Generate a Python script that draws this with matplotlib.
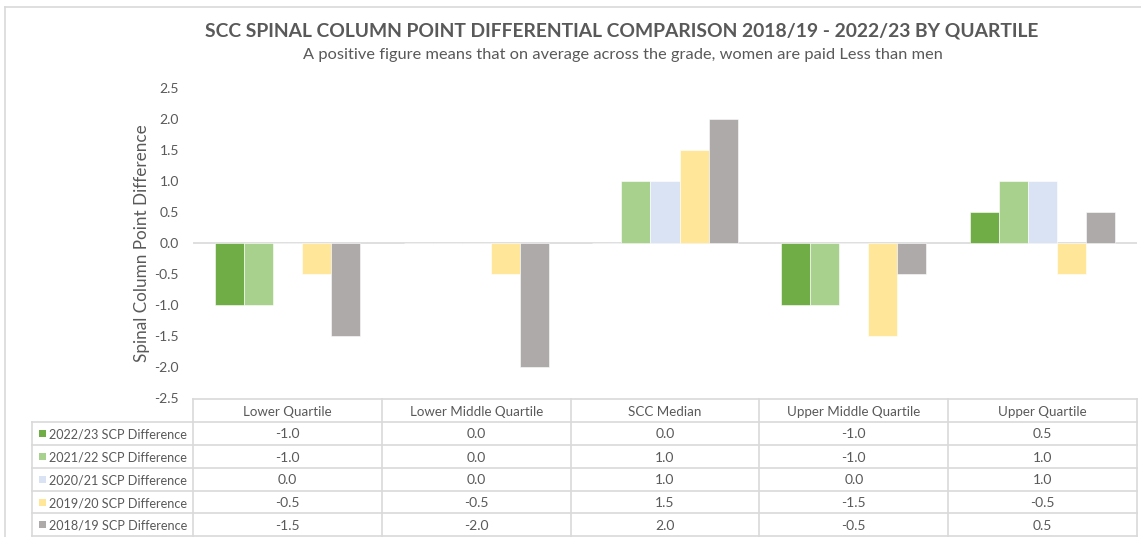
import matplotlib
matplotlib.use("Agg")
import matplotlib.pyplot as plt
from matplotlib.patches import Rectangle
from matplotlib.lines import Line2D

plt.rcParams['font.family'] = ['Lato', 'DejaVu Sans']

categories = ["Lower Quartile", "Lower Middle Quartile", "SCC Median",
              "Upper Middle Quartile", "Upper Quartile"]
series_names = ["2022/23 SCP Difference", "2021/22 SCP Difference",
                "2020/21 SCP Difference", "2019/20 SCP Difference",
                "2018/19 SCP Difference"]
v_2022_23 = [-1.0, 0.0, 0.0, -1.0, 0.5]
v_2021_22 = [-1.0, 0.0, 1.0, -1.0, 1.0]
v_2020_21 = [0.0, 0.0, 1.0, 0.0, 1.0]
v_2019_20 = [-0.5, -0.5, 1.5, -1.5, -0.5]
v_2018_19 = [-1.5, -2.0, 2.0, -0.5, 0.5]
series_values = [v_2022_23, v_2021_22, v_2020_21, v_2019_20, v_2018_19]
colors = ["#70AD47", "#A9D18E", "#DAE3F3", "#FFE699", "#AEAAAA"]
yticks = [2.5, 2.0, 1.5, 1.0, 0.5, 0.0, -0.5, -1.0, -1.5, -2.0, -2.5]

W, H = 1141, 537
fig = plt.figure(figsize=(W / 100, H / 100), dpi=100)
TXT = "#595959"
GRID = "#D9D9D9"

# plot area in pixel coordinates
x0, x1 = 193, 1137
ytop, ybot = 88, 398
ax = fig.add_axes([x0 / W, 1 - ybot / H, (x1 - x0) / W, (ybot - ytop) / H])
ax.set_xlim(-0.5, len(categories) - 0.5)
ax.set_ylim(-2.5, 2.5)
for s in ax.spines.values():
    s.set_visible(False)
ax.set_xticks([])
ax.set_yticks(yticks)
ax.set_yticklabels([f"{t:.1f}" for t in yticks])
ax.tick_params(axis='y', length=0, pad=10, labelsize=10, labelcolor=TXT)
ax.axhline(0, color=GRID, lw=1.2, zorder=1)

n = len(series_values)
bw = 1 / 6.5
for i, (vals, c) in enumerate(zip(series_values, colors)):
    xs = [k + (i - (n - 1) / 2) * bw for k in range(len(categories))]
    ax.bar(xs, vals, width=bw, color=c, edgecolor="white", linewidth=0.4, zorder=2)

ax.set_ylabel("Spinal Column Point Difference", fontsize=12.3, color=TXT, labelpad=3)

# overlay for table / titles in pixel coords
ov = fig.add_axes([0, 0, 1, 1], facecolor="none")
ov.set_xlim(0, W)
ov.set_ylim(H, 0)
ov.axis("off")

# chart border
ov.add_line(Line2D([5, W], [7, 7], color=GRID, lw=1.2))
ov.add_line(Line2D([5, 5], [7, H], color=GRID, lw=1.2))

ov.text(622, 31, "SCC SPINAL COLUMN POINT DIFFERENTIAL COMPARISON 2018/19 - 2022/23 BY QUARTILE",
        ha="center", va="center", fontsize=13.9, fontweight="bold", color=TXT)
ov.text(623, 55, "A positive figure means that on average across the grade, women are paid Less than men",
        ha="center", va="center", fontsize=11.8, color=TXT)

# data table
row_lines = [399, 422, 445, 468, 491, 513, 536]
colw = (x1 - x0) / len(categories)
lc = GRID
lw = 1.2
ov.add_line(Line2D([x0, x1], [row_lines[0]] * 2, color=lc, lw=lw))
for y in row_lines[1:]:
    ov.add_line(Line2D([32, x1], [y, y], color=lc, lw=lw))
ov.add_line(Line2D([32, 32], [row_lines[1], row_lines[-1]], color=lc, lw=lw))
for k in range(len(categories) + 1):
    xv = x0 + k * colw
    ov.add_line(Line2D([xv, xv], [row_lines[0], row_lines[-1]], color=lc, lw=lw))

for k, cat in enumerate(categories):
    cx = x0 + (k + 0.5) * colw
    ov.text(cx, (row_lines[0] + row_lines[1]) / 2 + 1, cat, ha="center", va="center",
            fontsize=9.6, color=TXT)
    for r, vals in enumerate(series_values):
        cy = (row_lines[r + 1] + row_lines[r + 2]) / 2 + 1
        ov.text(cx, cy, f"{vals[k]:.1f}", ha="center", va="center", fontsize=10, color=TXT)

for r, (name, c) in enumerate(zip(series_names, colors)):
    cy = (row_lines[r + 1] + row_lines[r + 2]) / 2
    ov.add_patch(Rectangle((39, cy - 3.5), 7, 7, facecolor=c, edgecolor="none"))
    ov.text(49, cy + 1, name, ha="left", va="center", fontsize=9.1, color=TXT)

fig.savefig("out.png", dpi=100, facecolor="white")
